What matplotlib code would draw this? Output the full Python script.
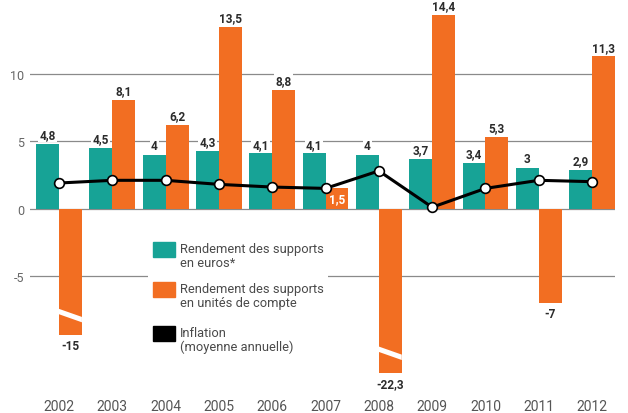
import matplotlib
matplotlib.use('Agg')
import matplotlib.pyplot as plt
from matplotlib.patches import Rectangle
import numpy as np

plt.rcParams['font.family'] = ['Roboto', 'DejaVu Sans']
plt.rcParams['axes.unicode_minus'] = False

# données
years = [2002, 2003, 2004, 2005, 2006, 2007, 2008, 2009, 2010, 2011, 2012]
euros = [4.8, 4.5, 4.0, 4.3, 4.1, 4.1, 4.0, 3.7, 3.4, 3.0, 2.9]
uc = [-15, 8.1, 6.2, 13.5, 8.8, 1.5, -22.3, 14.4, 5.3, -7, 11.3]
inflation = [1.9, 2.1, 2.1, 1.8, 1.6, 1.5, 2.8, 0.1, 1.5, 2.1, 2.0]
# barres tronquées (axe coupé)
cut = {2002: -9.4, 2008: -12.2}

TEAL = '#17a396'
ORANGE = '#f26e22'
W = 0.43

def fmt(v):
    return f"{v:g}".replace('.', ',')

fig = plt.figure(figsize=(6.28, 4.14), dpi=100)
ax = fig.add_axes([30 / 628, 18 / 414, 585 / 628, 391 / 414])

x = np.arange(len(years))
drawn = [cut.get(y, v) for y, v in zip(years, uc)]

ax.bar(x - W / 2, euros, W, color=TEAL, zorder=2)
ax.bar(x + W / 2, drawn, W, color=ORANGE, zorder=2)

# marques de coupure
for xi, y in zip(x, years):
    if y in cut:
        b = cut[y]
        x0, x1 = xi, xi + W
        yl, yr, t = b + 1.75, b + 1.15, 0.4
        ax.fill([x0, x1, x1, x0], [yl + t / 2, yr + t / 2, yr - t / 2, yl - t / 2],
                color='white', zorder=3, lw=0)

lab = dict(ha='center', fontsize=8.5, fontweight='bold', color='#2b2b2b',
           textcoords='offset points', zorder=5,
           bbox=dict(boxstyle='square,pad=0.1', fc='white', ec='none'))

for xi, v in zip(x, euros):
    ax.annotate(fmt(v), (xi - W / 2, v), xytext=(0, 2), va='bottom', **lab)

for xi, v, d in zip(x, uc, drawn):
    if v < 0:
        ax.annotate(fmt(v), (xi + W / 2, d), xytext=(0, -3), va='top', **lab)
    elif v < 2:
        ax.text(xi + W / 2, v / 2, fmt(v), ha='center', va='center',
                fontsize=8.5, fontweight='bold', color='white', zorder=5)
    else:
        ax.annotate(fmt(v), (xi + W / 2, v), xytext=(0, 2), va='bottom', **lab)

ax.plot(x, inflation, color='black', lw=2.2, marker='o', ms=7,
        mfc='white', mec='black', mew=1.2, zorder=4)

ax.set_xlim(-0.544, len(years) - 1 + W)
ax.set_ylim(-13.85, 15.2)
ax.set_yticks([-5, 0, 5, 10])
ax.set_xticks(x)
ax.set_xticklabels([str(y) for y in years])
ax.grid(axis='y', color='#8a8a8a', lw=0.9)
ax.set_axisbelow(True)
ax.tick_params(axis='y', length=0, pad=4, labelsize=9, labelcolor='#666666')
ax.tick_params(axis='x', length=0, pad=3, labelsize=10, labelcolor='#555555')
for s in ax.spines.values():
    s.set_visible(False)

# légende
lax = fig.add_axes([148 / 628, 1 - 356 / 414, 180 / 628, 118 / 414])
lax.set_xlim(0, 180)
lax.set_ylim(118, 0)
lax.set_xticks([])
lax.set_yticks([])
for s in lax.spines.values():
    s.set_visible(False)

entries = [(TEAL, "Rendement des supports\nen euros*"),
           (ORANGE, "Rendement des supports\nen unités de compte"),
           ('black', "Inflation\n(moyenne annuelle)")]
tops = [5, 45, 89]
for (c, t), top in zip(entries, tops):
    lax.add_patch(Rectangle((5, top), 22, 15, color=c))
    lax.text(32, top, t, ha='left', va='top', fontsize=9.3,
             color='#4a4a4a', linespacing=1.1)

fig.savefig('out.png', dpi=100)
